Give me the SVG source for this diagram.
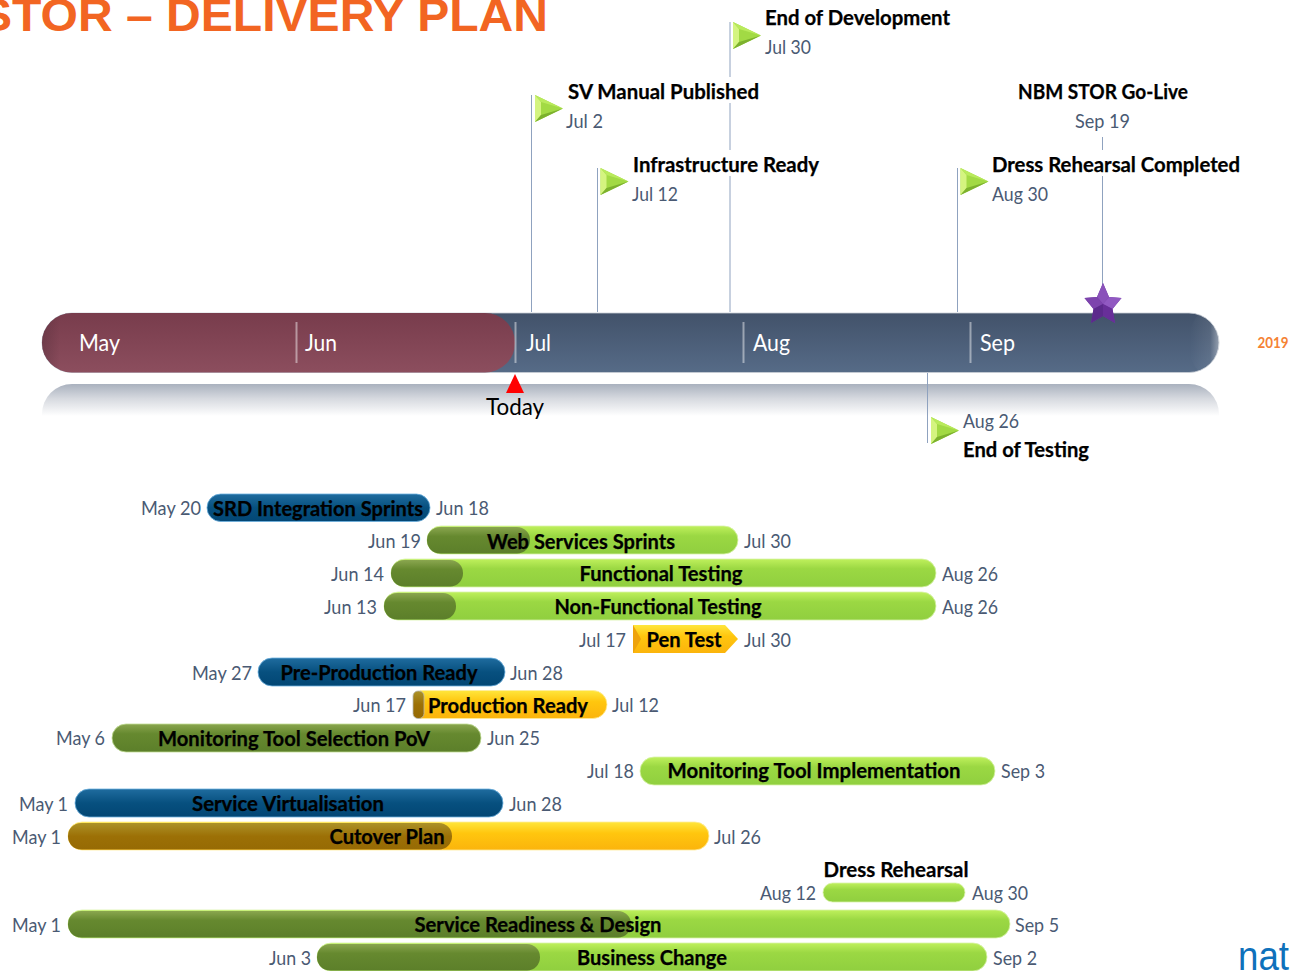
<svg xmlns="http://www.w3.org/2000/svg" width="1290" height="971" viewBox="0 0 1290 971">
<style>
text{font-family:"Lato","Open Sans","Liberation Sans",sans-serif}
.t{font-size:20px;font-weight:700;fill:#000;stroke:#000;stroke-width:.25px;transform:translateY(.7px)}
.d{font-size:19px;fill:#4a5a73;transform:translateY(.7px)}
.m{font-size:23px;fill:#fff}
.c{text-anchor:middle}
.e{text-anchor:end}
.ln{stroke:#8fa2bf;stroke-width:1;fill:none}
.tick{fill:#fff;opacity:.45}
.bl{fill:url(#gLight);stroke:#d8f3a8;stroke-width:.8px}
.bd{fill:url(#gDark)}
.bdo{fill:url(#gDark);stroke:#c2dd96;stroke-width:.8px}
.bb{fill:url(#gBlue);stroke:#6cb0de;stroke-width:.8px}
.bg{fill:url(#gGold);stroke:#ffec9a;stroke-width:.8px}
.bbr{fill:url(#gBrown)}
</style>
<defs>
<linearGradient id="gBar" x1="0" y1="0" x2="0" y2="1"><stop offset="0" stop-color="#42526a"/><stop offset="1" stop-color="#566b87"/></linearGradient>
<linearGradient id="gRed" x1="0" y1="0" x2="0" y2="1"><stop offset="0" stop-color="#783c4c"/><stop offset="1" stop-color="#8c4e5e"/></linearGradient>
<linearGradient id="gRef" x1="0" y1="0" x2="0" y2="1"><stop offset="0" stop-color="#a9b1be"/><stop offset=".45" stop-color="#d6d9df"/><stop offset="1" stop-color="#fff"/></linearGradient>
<linearGradient id="gEnds" gradientUnits="userSpaceOnUse" x1="1190" y1="0" x2="1219" y2="0"><stop offset="0" stop-color="#fff" stop-opacity="0"/><stop offset=".7" stop-color="#fff" stop-opacity=".08"/><stop offset="1" stop-color="#fff" stop-opacity=".4"/></linearGradient>
<linearGradient id="gLeft" gradientUnits="userSpaceOnUse" x1="42" y1="0" x2="60" y2="0"><stop offset="0" stop-color="#4a2a35" stop-opacity=".35"/><stop offset="1" stop-color="#4a2a35" stop-opacity="0"/></linearGradient>
<linearGradient id="gLight" x1="0" y1="0" x2="0" y2="1"><stop offset="0" stop-color="#bff05c"/><stop offset=".35" stop-color="#9bd843"/><stop offset="1" stop-color="#90cf3f"/></linearGradient>
<linearGradient id="gDark" x1="0" y1="0" x2="0" y2="1"><stop offset="0" stop-color="#8aa64f"/><stop offset=".35" stop-color="#66892f"/><stop offset="1" stop-color="#5c7f2a"/></linearGradient>
<linearGradient id="gBlue" x1="0" y1="0" x2="0" y2="1"><stop offset="0" stop-color="#1f6c9f"/><stop offset=".5" stop-color="#07507f"/><stop offset="1" stop-color="#024674"/></linearGradient>
<linearGradient id="gGold" x1="0" y1="0" x2="0" y2="1"><stop offset="0" stop-color="#ffe63c"/><stop offset=".4" stop-color="#ffc60e"/><stop offset="1" stop-color="#fbb40c"/></linearGradient>
<linearGradient id="gBrown" x1="0" y1="0" x2="0" y2="1"><stop offset="0" stop-color="#ac9228"/><stop offset=".5" stop-color="#9c7006"/><stop offset="1" stop-color="#966a04"/></linearGradient>
<g id="flag">
<polygon points="0,0 28,13.500 0,27" fill="#a2da44"/>
<polygon points="0,0 6,7 6,20 0,27" fill="#d4f480"/>
<polygon points="0,0 28,13.500 6,7" fill="#b9ea5c"/>
<polygon points="0,27 28,13.500 6,20" fill="#7cb12e"/>
</g>
</defs>

<text id="title" x="-20" y="31" font-size="46" font-weight="700" style="font-family:'Liberation Sans',sans-serif" fill="#f26522" textLength="568" lengthAdjust="spacingAndGlyphs">STOR – DELIVERY PLAN</text>

<g id="timeline">
<path d="M42 416V414A30 30 0 0 1 72 384H1189A30 30 0 0 1 1219 414V416Z" fill="url(#gRef)"/>
<rect x="42" y="313" width="1177" height="59.500" rx="30" fill="url(#gBar)" stroke="#c9ced6" stroke-width=".8"/>
<rect x="1189" y="313" width="30" height="59.500" rx="30" fill="url(#gEnds)"/>
<rect x="42" y="313" width="473" height="59.500" rx="30" fill="url(#gRed)"/>
<rect x="42" y="313" width="60" height="59.500" rx="30" fill="url(#gLeft)"/>
<rect class="tick" x="295.500" y="322" width="2" height="41"/>
<rect class="tick" x="514.500" y="322" width="2" height="41"/>
<rect class="tick" x="742.500" y="322" width="2" height="41"/>
<rect class="tick" x="969.500" y="322" width="2" height="41"/>
<text class="m" x="79" y="351" textLength="41" lengthAdjust="spacingAndGlyphs">May</text>
<text class="m" x="305" y="351" textLength="32" lengthAdjust="spacingAndGlyphs">Jun</text>
<text class="m" x="526" y="351" textLength="25" lengthAdjust="spacingAndGlyphs">Jul</text>
<text class="m" x="753" y="351" textLength="37" lengthAdjust="spacingAndGlyphs">Aug</text>
<text class="m" x="980" y="351" textLength="35" lengthAdjust="spacingAndGlyphs">Sep</text>
<text x="1257.500" y="348" font-size="14.500" font-weight="700" fill="#f58233" textLength="31" lengthAdjust="spacingAndGlyphs">2019</text>
</g>

<g id="connectors">
<path class="ln" d="M730 22V77M730 103V150M730 176V312M531.500 95V312M597.500 168V312M957.500 168V312M1102.500 137V150M1102.500 176V290M927.500 373V443"/>
</g>

<g id="today">
<polygon points="515,374 524,393 506,393" fill="#f00"/>
<text class="c" x="515" y="415" font-size="23" fill="#000" textLength="58" lengthAdjust="spacingAndGlyphs">Today</text>
</g>

<g id="ms-end-dev"><use href="#flag" x="733" y="22"/><text class="t" x="765" y="24" textLength="185" lengthAdjust="spacingAndGlyphs">End of Development</text><text class="d" x="765" y="53" textLength="46" lengthAdjust="spacingAndGlyphs">Jul 30</text></g>
<g id="ms-sv"><use href="#flag" x="535" y="95"/><text class="t" x="568" y="98" textLength="191" lengthAdjust="spacingAndGlyphs">SV Manual Published</text><text class="d" x="566" y="127" textLength="37" lengthAdjust="spacingAndGlyphs">Jul 2</text></g>
<g id="ms-infra"><use href="#flag" x="600.500" y="168"/><text class="t" x="633" y="171" textLength="186" lengthAdjust="spacingAndGlyphs">Infrastructure Ready</text><text class="d" x="632" y="200" textLength="46" lengthAdjust="spacingAndGlyphs">Jul 12</text></g>
<g id="ms-dress"><use href="#flag" x="960.500" y="168"/><text class="t" x="992" y="171" textLength="248" lengthAdjust="spacingAndGlyphs">Dress Rehearsal Completed</text><text class="d" x="992" y="200" textLength="56" lengthAdjust="spacingAndGlyphs">Aug 30</text></g>
<g id="ms-golive"><text class="t c" x="1103" y="98" textLength="170" lengthAdjust="spacingAndGlyphs">NBM STOR Go-Live</text><text class="d c" x="1102.500" y="127" textLength="55" lengthAdjust="spacingAndGlyphs">Sep 19</text>
<polygon points="1103,283 1109,297 1121.500,298 1112.500,309 1115,323 1103,316 1091,323 1093.500,309 1084.500,298 1097,297" fill="#6f36a3"/>
<polygon points="1103,283 1109,297 1103,304 1097,297" fill="#8a52ba"/>
<polygon points="1084.500,298 1097,297 1103,304 1093.500,309" fill="#7d44ad"/>
<polygon points="1121.500,298 1109,297 1103,304 1112.500,309" fill="#9159c2"/>
<polygon points="1091,323 1093.500,309 1103,304 1103,316" fill="#5c2a8c"/>
<polygon points="1115,323 1112.500,309 1103,304 1103,316" fill="#682f99"/></g>
<g id="ms-testing"><use href="#flag" x="931" y="417"/><text class="d" x="963" y="427" textLength="56" lengthAdjust="spacingAndGlyphs">Aug 26</text><text class="t" x="963" y="456" textLength="126" lengthAdjust="spacingAndGlyphs">End of Testing</text></g>

<g id="b-srd"><text class="d e" x="201" y="514" textLength="60" lengthAdjust="spacingAndGlyphs">May 20</text><rect class="bb" x="207" y="494" width="223" height="27.500" rx="13.700"/><text class="t c" x="318" y="515" textLength="210" lengthAdjust="spacingAndGlyphs">SRD Integration Sprints</text><text class="d" x="436" y="514" textLength="53" lengthAdjust="spacingAndGlyphs">Jun 18</text></g>
<g id="b-web"><text class="d e" x="421" y="547" textLength="53" lengthAdjust="spacingAndGlyphs">Jun 19</text><rect class="bl" x="427" y="526" width="311" height="28" rx="14"/><rect class="bd" x="427" y="527" width="103" height="26.500" rx="13"/><text class="t c" x="581" y="548" textLength="188" lengthAdjust="spacingAndGlyphs">Web Services Sprints</text><text class="d" x="744" y="547" textLength="47" lengthAdjust="spacingAndGlyphs">Jul 30</text></g>
<g id="b-func"><text class="d e" x="384" y="580" textLength="53" lengthAdjust="spacingAndGlyphs">Jun 14</text><rect class="bl" x="391" y="559" width="545" height="28" rx="14"/><rect class="bd" x="391" y="560" width="72" height="26.500" rx="13"/><text class="t c" x="661" y="580" textLength="163" lengthAdjust="spacingAndGlyphs">Functional Testing</text><text class="d" x="942" y="580" textLength="56" lengthAdjust="spacingAndGlyphs">Aug 26</text></g>
<g id="b-nonfunc"><text class="d e" x="377" y="613" textLength="53" lengthAdjust="spacingAndGlyphs">Jun 13</text><rect class="bl" x="384" y="592" width="552" height="28" rx="14"/><rect class="bd" x="384" y="593" width="72" height="26.500" rx="13"/><text class="t c" x="658" y="613" textLength="207" lengthAdjust="spacingAndGlyphs">Non-Functional Testing</text><text class="d" x="942" y="613" textLength="56" lengthAdjust="spacingAndGlyphs">Aug 26</text></g>
<g id="b-pen"><text class="d e" x="626" y="646" textLength="47" lengthAdjust="spacingAndGlyphs">Jul 17</text><polygon points="633,625 725,625 738,639 725,653 633,653" fill="url(#gGold)"/><polygon points="633,625 641,639 633,653" fill="#eea30c"/><text class="t c" x="684" y="646" textLength="75" lengthAdjust="spacingAndGlyphs">Pen Test</text><text class="d" x="744" y="646" textLength="47" lengthAdjust="spacingAndGlyphs">Jul 30</text></g>
<g id="b-preprod"><text class="d e" x="252" y="679" textLength="60" lengthAdjust="spacingAndGlyphs">May 27</text><rect class="bb" x="258" y="658" width="247" height="28" rx="14"/><text class="t c" x="379" y="679" textLength="197" lengthAdjust="spacingAndGlyphs">Pre-Production Ready</text><text class="d" x="510" y="679" textLength="53" lengthAdjust="spacingAndGlyphs">Jun 28</text></g>
<g id="b-prod"><text class="d e" x="406" y="711" textLength="53" lengthAdjust="spacingAndGlyphs">Jun 17</text><path class="bg" d="M420 690.500H593a14 14 0 0 1 0 28H420Z"/><rect x="413" y="691" width="11" height="27.500" rx="5" fill="url(#gBrown)" stroke="#b8b8b0" stroke-width=".8"/><text class="t c" x="508" y="712" textLength="160" lengthAdjust="spacingAndGlyphs">Production Ready</text><text class="d" x="612" y="711" textLength="47" lengthAdjust="spacingAndGlyphs">Jul 12</text></g>
<g id="b-monsel"><text class="d e" x="105" y="744" textLength="49" lengthAdjust="spacingAndGlyphs">May 6</text><rect class="bdo" x="112" y="724" width="369" height="28" rx="14"/><text class="t c" x="294" y="745" textLength="272" lengthAdjust="spacingAndGlyphs">Monitoring Tool Selection PoV</text><text class="d" x="487" y="744" textLength="53" lengthAdjust="spacingAndGlyphs">Jun 25</text></g>
<g id="b-monimp"><text class="d e" x="634" y="777" textLength="47" lengthAdjust="spacingAndGlyphs">Jul 18</text><rect class="bl" x="640" y="757" width="355" height="28" rx="14"/><text class="t c" x="814" y="777" textLength="293" lengthAdjust="spacingAndGlyphs">Monitoring Tool Implementation</text><text class="d" x="1001" y="777" textLength="44" lengthAdjust="spacingAndGlyphs">Sep 3</text></g>
<g id="b-virt"><text class="d e" x="68" y="810" textLength="49" lengthAdjust="spacingAndGlyphs">May 1</text><rect class="bb" x="75" y="789" width="428" height="28" rx="14"/><text class="t c" x="288" y="810" textLength="192" lengthAdjust="spacingAndGlyphs">Service Virtualisation</text><text class="d" x="509" y="810" textLength="53" lengthAdjust="spacingAndGlyphs">Jun 28</text></g>
<g id="b-cut"><text class="d e" x="61" y="843" textLength="49" lengthAdjust="spacingAndGlyphs">May 1</text><rect class="bg" x="68" y="822" width="641" height="28" rx="14"/><rect class="bbr" x="68" y="823" width="384" height="26.500" rx="13"/><text class="t c" x="387" y="843" textLength="115" lengthAdjust="spacingAndGlyphs">Cutover Plan</text><text class="d" x="714" y="843" textLength="47" lengthAdjust="spacingAndGlyphs">Jul 26</text></g>
<g id="b-dress"><text class="t c" x="896" y="876" textLength="145" lengthAdjust="spacingAndGlyphs">Dress Rehearsal</text><text class="d e" x="816" y="899" textLength="56" lengthAdjust="spacingAndGlyphs">Aug 12</text><rect class="bl" x="823" y="883" width="142" height="19" rx="9.500"/><text class="d" x="972" y="899" textLength="56" lengthAdjust="spacingAndGlyphs">Aug 30</text></g>
<g id="b-ready"><text class="d e" x="61" y="931" textLength="49" lengthAdjust="spacingAndGlyphs">May 1</text><rect class="bl" x="68" y="910" width="942" height="28" rx="14"/><rect class="bd" x="68" y="911" width="563" height="26.500" rx="13"/><text class="t c" x="538" y="931" textLength="247" lengthAdjust="spacingAndGlyphs">Service Readiness &amp; Design</text><text class="d" x="1015" y="931" textLength="44" lengthAdjust="spacingAndGlyphs">Sep 5</text></g>
<g id="b-change"><text class="d e" x="311" y="964" textLength="42" lengthAdjust="spacingAndGlyphs">Jun 3</text><rect class="bl" x="317" y="943" width="670" height="28" rx="14"/><rect class="bd" x="317" y="944" width="223" height="26.500" rx="13"/><text class="t c" x="652" y="964" textLength="150" lengthAdjust="spacingAndGlyphs">Business Change</text><text class="d" x="993" y="964" textLength="44" lengthAdjust="spacingAndGlyphs">Sep 2</text></g>

<text id="logo" x="1238" y="970" font-size="41" style="font-family:'Liberation Sans',sans-serif" fill="#0f71bb" textLength="51" lengthAdjust="spacingAndGlyphs">nat</text>
</svg>
